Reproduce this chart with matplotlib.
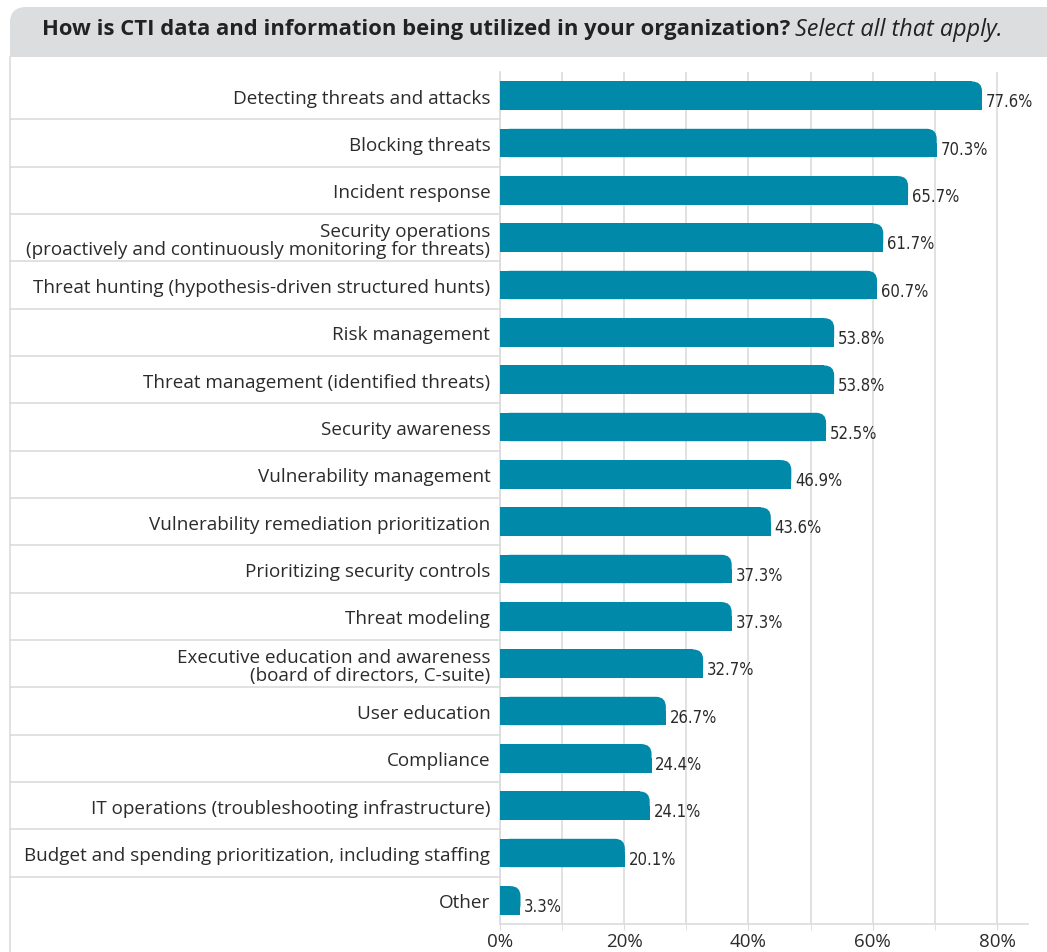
import matplotlib.pyplot as plt
from matplotlib.patches import FancyBboxPatch, Rectangle
from matplotlib.lines import Line2D
from matplotlib.transforms import blended_transform_factory

categories = [
    "Detecting threats and attacks",
    "Blocking threats",
    "Incident response",
    "Security operations\n(proactively and continuously monitoring for threats)",
    "Threat hunting (hypothesis-driven structured hunts)",
    "Risk management",
    "Threat management (identified threats)",
    "Security awareness",
    "Vulnerability management",
    "Vulnerability remediation prioritization",
    "Prioritizing security controls",
    "Threat modeling",
    "Executive education and awareness\n(board of directors, C-suite)",
    "User education",
    "Compliance",
    "IT operations (troubleshooting infrastructure)",
    "Budget and spending prioritization, including staffing",
    "Other",
]
values = [77.6, 70.3, 65.7, 61.7, 60.7, 53.8, 53.8, 52.5, 46.9, 43.6,
          37.3, 37.3, 32.7, 26.7, 24.4, 24.1, 20.1, 3.3]
tick_vals = [0, 20, 40, 60, 80]
tick_labels = ["0%", "20%", "40%", "60%", "80%"]

bar_color = "#0089a8"
grid_color = "#dcdcdc"
text_color = "#2b2b2b"
label_font = "Open Sans"

fig = plt.figure(figsize=(10.47, 9.53), dpi=100)
W, H = 1047, 953

# header panel, only the top-left corner rounded
hdr = FancyBboxPatch((10 / W, (H - 58) / H), 1.1, 50 / H,
                     boxstyle="round,pad=0,rounding_size=0.016",
                     transform=fig.transFigure, facecolor="#dcdddf",
                     edgecolor="none", zorder=0)
fig.patches.append(hdr)
fig.patches.append(Rectangle((10 / W, (H - 58) / H), 1.1, 25 / H,
                             transform=fig.transFigure, facecolor="#dcdddf",
                             edgecolor="none", zorder=0))
fig.lines.append(Line2D([10 / W, 10 / W], [0, (H - 58) / H],
                        transform=fig.transFigure, color=grid_color, lw=1.2))

t1 = fig.text(42 / W, 1 - 30 / H,
              "How is CTI data and information being utilized in your organization?",
              fontsize=15.8, fontweight="bold", family=label_font,
              color="#222222", va="center", ha="left")
fig.canvas.draw()
bb = t1.get_window_extent()
fig.text((bb.x1 + 5) / W, 1 - 30 / H, "Select all that apply.",
         fontsize=16.8, fontstyle="italic", family=label_font,
         color="#222222", va="center", ha="left")

ax = fig.add_axes([500 / W, (H - 925) / H, 528 / W, 852 / H])
n = len(categories)
ypos = list(range(n))
xmax = 85
ax.set_xlim(0, xmax)
ax.set_ylim(n - 0.5, -0.5)

px_x = xmax / 528
px_y = n / 852
r_px = 10
bh = 0.6
for y, v in zip(ypos, values):
    rs = min(r_px * px_x, v * 0.5)
    ax.add_patch(FancyBboxPatch((0, y - bh / 2), v, bh,
                                boxstyle=f"round,pad=0,rounding_size={rs}",
                                mutation_aspect=px_y / px_x,
                                facecolor=bar_color, edgecolor="none", zorder=3))
    # square off everything except the top-right corner
    ax.add_patch(Rectangle((0, y - bh / 2), max(v - rs, 0), bh,
                           facecolor=bar_color, edgecolor="none", zorder=3))
    ax.add_patch(Rectangle((0, y), v, bh / 2,
                           facecolor=bar_color, edgecolor="none", zorder=3))
    ax.text(v + 0.6, y + 0.12, f"{v:.1f}%", family="DejaVu Sans",
            fontstretch="condensed", fontsize=12,
            color=text_color, va="center", ha="left", zorder=4)

ax.set_yticks(ypos)
ax.set_yticklabels(categories, family=label_font, fontsize=13.6,
                   color=text_color, linespacing=1.0)
ax.tick_params(axis="y", length=0, pad=7)

ax.set_xticks(tick_vals)
ax.set_xticklabels(tick_labels, family=label_font, fontsize=13.5,
                   color=text_color)
ax.set_xticks(range(10, 81, 20), minor=True)
ax.tick_params(axis="x", which="both", length=4, color=grid_color, pad=2)
ax.grid(axis="x", which="both", color=grid_color, lw=1.2, zorder=0)
ax.set_axisbelow(True)

for s in ["top", "right"]:
    ax.spines[s].set_visible(False)
for s in ["left", "bottom"]:
    ax.spines[s].set_color(grid_color)
    ax.spines[s].set_linewidth(1.2)

tr = blended_transform_factory(fig.transFigure, ax.transData)
for i in range(n - 1):
    fig.lines.append(Line2D([10 / W, 500 / W], [i + 0.5, i + 0.5],
                            transform=tr, color=grid_color, lw=1.2))

fig.savefig("out.png", dpi=100)
